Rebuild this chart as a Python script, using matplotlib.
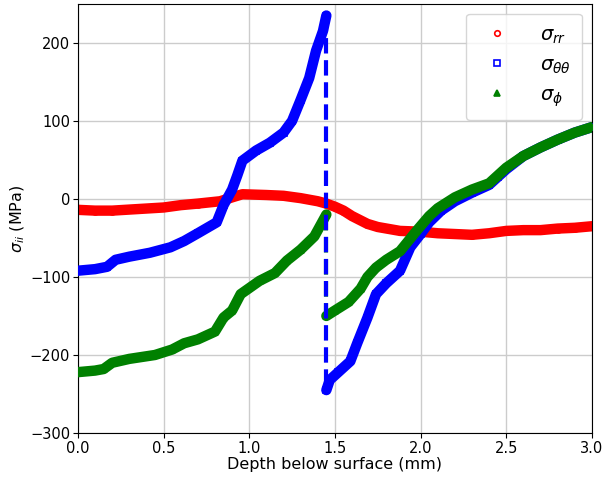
import matplotlib
matplotlib.use("Agg")
import matplotlib.pyplot as plt
from matplotlib.lines import Line2D

# depth (mm) and stress (MPa)
x_rr = [0.0, 0.1, 0.2, 0.35, 0.5, 0.6, 0.7, 0.83, 0.9, 0.96, 1.1, 1.2, 1.3, 1.4, 1.45,
        1.5, 1.55, 1.6, 1.69, 1.75, 1.88, 2.0, 2.1, 2.2, 2.3, 2.4, 2.5, 2.6, 2.7, 2.8, 2.9, 3.0]
s_rr = [-14, -15, -15, -13, -11, -8, -6, -3, 2, 6, 5, 4, 1, -3, -6,
        -10, -15, -22, -32, -36, -41, -42, -44, -45, -46, -44, -41, -40, -40, -38, -37, -35]

x_tt1 = [0.0, 0.1, 0.17, 0.22, 0.3, 0.42, 0.54, 0.62, 0.7, 0.81, 0.85, 0.9, 0.93, 0.96,
         1.04, 1.12, 1.2, 1.25, 1.3, 1.35, 1.39, 1.43, 1.45]
s_tt1 = [-92, -90, -87, -78, -74, -69, -62, -54, -44, -30, -8, 12, 30, 49,
         62, 72, 85, 100, 127, 155, 190, 215, 235]
x_tt2 = [1.45, 1.47, 1.52, 1.59, 1.63, 1.69, 1.74, 1.8, 1.88, 1.94, 2.0, 2.05, 2.12, 2.2,
         2.3, 2.4, 2.45, 2.5, 2.6, 2.7, 2.8, 2.9, 3.0]
s_tt2 = [-245, -232, -222, -208, -185, -152, -122, -108, -92, -62, -45, -30, -15, -3,
         8, 18, 28, 38, 55, 66, 76, 85, 92]

x_ph1 = [0.0, 0.1, 0.15, 0.2, 0.3, 0.45, 0.55, 0.62, 0.7, 0.8, 0.85, 0.9, 0.95,
         1.06, 1.15, 1.22, 1.3, 1.38, 1.45]
s_ph1 = [-222, -220, -218, -210, -205, -200, -193, -185, -180, -170, -152, -143, -122,
         -105, -95, -79, -65, -48, -20]
x_ph2 = [1.45, 1.5, 1.58, 1.65, 1.69, 1.74, 1.8, 1.88, 1.98, 2.05, 2.1, 2.2, 2.3, 2.4,
         2.45, 2.5, 2.6, 2.7, 2.8, 2.9, 3.0]
s_ph2 = [-150, -143, -132, -115, -100, -88, -78, -67, -40, -22, -12, 2, 12, 20,
         30, 40, 55, 66, 76, 85, 92]

red = "red"
blue = "blue"
green = "green"

fig = plt.figure(figsize=(6.04, 4.79), dpi=100)
ax = fig.add_axes([0.129, 0.096, 0.851, 0.896])

lw = 7.5
ms = 5

def draw(xs, ys, c, mk, mfc, z):
    ax.plot(xs, ys, color=c, lw=lw, solid_capstyle="round", solid_joinstyle="round", zorder=z)
    ax.plot(xs, ys, ls="none", marker=mk, ms=ms, mfc=mfc, mec=c, mew=1.2, zorder=z + 0.1)

draw(x_rr, s_rr, red, "o", "none", 2)

draw(x_tt1, s_tt1, blue, "s", "none", 3)
draw(x_tt2, s_tt2, blue, "s", "none", 3)

draw(x_ph1, s_ph1, green, "^", green, 4)
draw(x_ph2, s_ph2, green, "^", green, 4)
ax.plot([x_ph1[-1], x_ph2[0]], [s_ph1[-1], s_ph2[0]], color=green, lw=3, ls="--", zorder=4.5)
ax.plot([x_tt1[-1], x_tt2[0]], [s_tt1[-1], s_tt2[0]], color=blue, lw=3, ls="--", zorder=5)

ax.set_xlim(0, 3)
ax.set_ylim(-300, 250)
ax.set_xticks([0, 0.5, 1.0, 1.5, 2.0, 2.5, 3.0])
ax.set_yticks([-300, -200, -100, 0, 100, 200])
ax.grid(True, color="#cccccc", lw=1)
ax.set_axisbelow(True)
ax.tick_params(labelsize=10.5, pad=2)
ax.set_xlabel("Depth below surface (mm)", fontsize=11.5, labelpad=1)
ax.set_ylabel(r"$\sigma_{ii}$ (MPa)", fontsize=11.5, labelpad=2)

handles = [
    Line2D([], [], ls="none", marker="o", ms=4, mfc="none", mec=red, mew=1.2),
    Line2D([], [], ls="none", marker="s", ms=4, mfc="none", mec=blue, mew=1.2),
    Line2D([], [], ls="none", marker="^", ms=4, mfc=green, mec=green, mew=1.2),
]
labels = [r"$\sigma_{rr}$", r"$\sigma_{\theta\theta}$", r"$\sigma_{\phi}$"]
ax.legend(handles, labels, loc="upper right", fontsize=14, handletextpad=1.2,
          borderpad=0.6, labelspacing=0.5)

fig.savefig("out.png", dpi=100)
